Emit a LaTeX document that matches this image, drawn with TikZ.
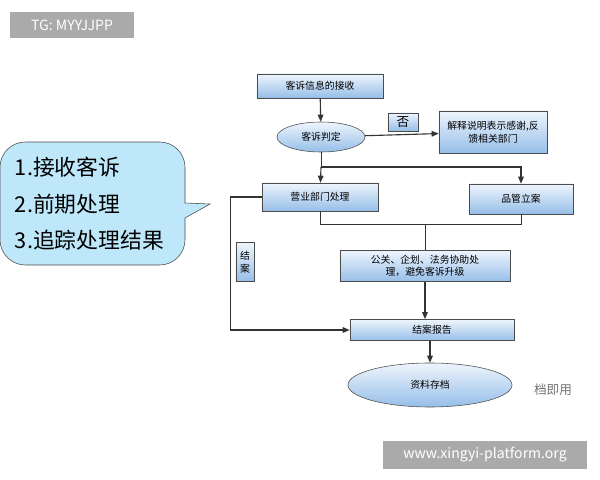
\documentclass[tikz,border=0pt]{standalone}
\usepackage{fontspec}
\setmainfont{Noto Sans CJK SC}
\usetikzlibrary{shapes.geometric,arrows.meta}
\definecolor{boxtop}{RGB}{238,245,253}
\definecolor{boxbot}{RGB}{150,190,232}
\definecolor{bubble}{RGB}{190,232,250}
\definecolor{tagbg}{RGB}{170,170,170}
\tikzset{
  stage/.style={draw=black!70, top color=boxtop, bottom color=boxbot, font=\fontsize{7}{9}\selectfont, align=center, inner sep=1pt},
  oval/.style={stage, ellipse},
  flow/.style={-{Triangle[length=5pt,width=4pt]}, thick, black!80},
  link/.style={black!80, thin}
}
\begin{document}
\begin{tikzpicture}[x=0.025cm, y=-0.025cm]
  \useasboundingbox (0,0) rectangle (600,480);
  % tags
  \node[fill=tagbg, text=white, minimum width=3.1cm, minimum height=0.65cm, font=\fontsize{10}{12}\selectfont] (tg) at (72,25) {TG: MYYJJPP};
  \node[fill=tagbg, text=white, minimum width=5.1cm, minimum height=0.7cm, font=\fontsize{10}{12}\selectfont] (site) at (485,455) {www.xingyi-platform.org};
  \node[text=black!55, font=\fontsize{9}{11}\selectfont] (mark) at (553,390) {档即用};

  % callout bubble
  \draw[black!70, fill=bubble] (185,190) [rounded corners=18pt] -- (185,142) -- (0,142) -- (0,265) -- (185,265) [sharp corners] -- (185,218) -- (210,204) -- (185,203) -- cycle;
  \node[anchor=west, align=left, font=\fontsize{15.5}{26}\selectfont] (steps) at (10,204) {1.接收客诉\\2.前期处理\\3.追踪处理结果};

  % flow nodes
  \node[stage, minimum width=3.15cm, minimum height=0.6cm] (recv) at (320,86) {客诉信息的接收};
  \node[oval, minimum width=2.2cm, minimum height=0.75cm] (judge) at (321,137) {客诉判定};
  \node[stage, minimum width=0.75cm, minimum height=0.45cm, font=\fontsize{9}{11}\selectfont] (no) at (403,122) {否};
  \node[stage, minimum width=2.7cm, minimum height=1.05cm] (explain) at (493,132) {解释说明表示感谢,反\\馈相关部门};
  \node[stage, minimum width=2.9cm, minimum height=0.7cm] (sales) at (320,197) {营业部门处理};
  \node[stage, minimum width=2.6cm, minimum height=0.75cm] (qc) at (521,199) {品管立案};
  \node[stage, minimum width=4.25cm, minimum height=0.78cm] (pr) at (425,266) {公关、企划、法务协助处\\理，避免客诉升级};
  \node[stage, minimum width=0.45cm, minimum height=0.98cm] (close) at (245,262) {结\\案};
  \node[stage, minimum width=4.1cm, minimum height=0.53cm] (report) at (432,330) {结案报告};
  \node[oval, minimum width=4.1cm, minimum height=1.1cm] (archive) at (430,385) {资料存档};

  % connectors
  \coordinate (split) at (321,167);
  \coordinate (merge) at (425,224);
  \draw[flow] (recv) -- (judge);
  \draw[flow] (judge) -- (explain);
  \draw[link] (judge) -- (split);
  \draw[flow] (split) -- (sales);
  \draw[flow] (split) -| (qc);
  \draw[link] (sales.south) |- (merge);
  \draw[link] (qc.south) |- (merge);
  \draw[link] (merge) -- (pr);
  \draw[flow] (pr) -- (report.north -| pr);
  \draw[flow] (sales.west) -- ++(-31,0) |- (report.west);
  \draw[flow] (report.south -| archive) -- (archive);
\end{tikzpicture}
\end{document}
